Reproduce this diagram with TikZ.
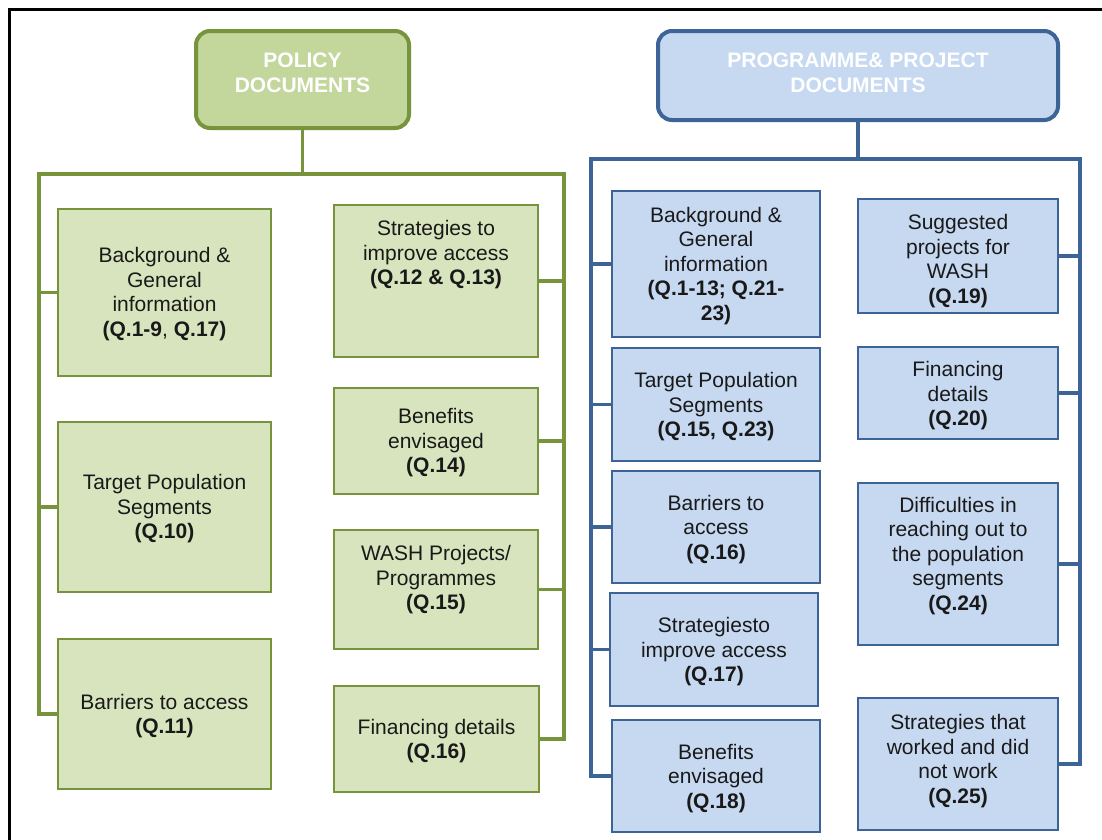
\documentclass[tikz,border=0pt]{standalone}
\usepackage{fontspec}
\setmainfont{Liberation Sans}
\definecolor{gfill}{HTML}{D7E4BD}
\definecolor{ghead}{HTML}{C3D69B}
\definecolor{gline}{HTML}{77933C}
\definecolor{bfill}{HTML}{C6D9F1}
\definecolor{bline}{HTML}{3C6496}
\begin{document}
\begin{tikzpicture}[x=1pt,y=-1pt,
  every node/.style={font=\fontsize{21}{24.5}\selectfont, align=center, text=black!90},
  headtext/.style={font=\fontsize{21}{24.5}\selectfont\bfseries, text=white, inner sep=0pt},
  bodytext/.style={inner sep=0pt},
  ghdr/.style={draw=gline, fill=ghead, line width=4pt, rounded corners=14pt, inner sep=0pt},
  bhdr/.style={draw=bline, fill=bfill, line width=4pt, rounded corners=14pt, inner sep=0pt},
  gbox/.style={draw=gline, fill=gfill, line width=2pt, inner sep=0pt},
  bbox/.style={draw=bline, fill=bfill, line width=2.5pt, inner sep=0pt},
  gwire/.style={draw=gline, line width=3.5pt},
  bwire/.style={draw=bline, line width=3.5pt}
]
\useasboundingbox (0,0) rectangle (1102,839);
\clip (0,0) rectangle (1102,839);
\fill[white] (0,0) rectangle (1102,839);

% outer frame
\draw[line width=3pt] (9.5,860) -- (9.5,9.5) -- (1120,9.5);

% ---------- policy documents ----------
\node[ghdr, minimum width=213pt, minimum height=97pt] (pol) at (302.5,79.5) {};
\node[headtext] (polt) at (302.5,73) {POLICY\\DOCUMENTS};

\node[gbox, minimum width=213pt, minimum height=167pt] (p1) at (164.5,292.5) {};
\node[bodytext] (p1t) at (164.5,294) {Background \&\\General\\information\\\textbf{(Q.1-9}, \textbf{Q.17)}};
\node[gbox, minimum width=213pt, minimum height=170pt] (p2) at (164.5,507) {};
\node[bodytext] (p2t) at (164.5,509) {Target Population\\Segments\\\textbf{(Q.10)}};
\node[gbox, minimum width=213pt, minimum height=150pt] (p3) at (164.5,714) {};
\node[bodytext] (p3t) at (164.5,716) {Barriers to access\\\textbf{(Q.11)}};

\node[gbox, minimum width=204pt, minimum height=152pt] (r1) at (436,281) {};
\node[bodytext] (r1t) at (436,255) {Strategies to\\improve access\\\textbf{(Q.12 \& Q.13)}};
\node[gbox, minimum width=204pt, minimum height=106pt] (r2) at (436,441) {};
\node[bodytext] (r2t) at (436,443) {Benefits\\envisaged\\\textbf{(Q.14)}};
\node[gbox, minimum width=204pt, minimum height=119pt] (r3) at (436,589.5) {};
\node[bodytext] (r3t) at (436,580) {WASH Projects/\\Programmes\\\textbf{(Q.15)}};
\node[gbox, minimum width=205pt, minimum height=106pt] (r4) at (436.5,739) {};
\node[bodytext] (r4t) at (436.5,741) {Financing details\\\textbf{(Q.16)}};

\coordinate (gTL) at (39,174);
\coordinate (gTR) at (564,174);
\draw[gwire] (pol.south) -- (pol.south |- gTL);
\draw[gwire] (p3.west) -| (gTL) -- (gTR) |- (r4.east);
\draw[gwire] (p1.west) -- (p1.west -| gTL);
\draw[gwire] (p2.west) -- (p2.west -| gTL);
\draw[gwire] (r1.east) -- (r1.east -| gTR);
\draw[gwire] (r2.east) -- (r2.east -| gTR);
\draw[gwire] (r3.east) -- (r3.east -| gTR);

% ---------- programme & project documents ----------
\node[bhdr, minimum width=400pt, minimum height=89pt] (prog) at (858,75.5) {};
\node[headtext] (progt) at (858,73) {PROGRAMME\& PROJECT\\DOCUMENTS};

\node[bbox, minimum width=208pt, minimum height=146pt] (b1) at (716,264) {};
\node[bodytext] (b1t) at (716,266) {Background \&\\General\\information\\\textbf{(Q.1-13; Q.21-}\\\textbf{23)}};
\node[bbox, minimum width=208pt, minimum height=113pt] (b2) at (716,404.5) {};
\node[bodytext] (b2t) at (716,407) {Target Population\\Segments\\\textbf{(Q.15, Q.23)}};
\node[bbox, minimum width=208pt, minimum height=112pt] (b3) at (716,527) {};
\node[bodytext] (b3t) at (716,529.5) {Barriers to\\access\\\textbf{(Q.16)}};
\node[bbox, minimum width=208pt, minimum height=113pt] (b4) at (714,649.5) {};
\node[bodytext] (b4t) at (714,652) {Strategiesto\\improve access\\\textbf{(Q.17)}};
\node[bbox, minimum width=208pt, minimum height=112pt] (b5) at (716,776) {};
\node[bodytext] (b5t) at (716,778.5) {Benefits\\envisaged\\\textbf{(Q.18)}};

\node[bbox, minimum width=200pt, minimum height=114pt] (c1) at (958,256) {};
\node[bodytext] (c1t) at (958,261) {Suggested\\projects for\\WASH\\\textbf{(Q.19)}};
\node[bbox, minimum width=200pt, minimum height=92pt] (c2) at (958,393) {};
\node[bodytext] (c2t) at (958,396) {Financing\\details\\\textbf{(Q.20)}};
\node[bbox, minimum width=200pt, minimum height=162pt] (c3) at (958,564) {};
\node[bodytext] (c3t) at (958,556) {Difficulties in\\reaching out to\\the population\\segments\\\textbf{(Q.24)}};
\node[bbox, minimum width=200pt, minimum height=132pt] (c4) at (958,764) {};
\node[bodytext] (c4t) at (958,761) {Strategies that\\worked and did\\not work\\\textbf{(Q.25)}};

\coordinate (bTL) at (591,159);
\coordinate (bTR) at (1080,159);
\draw[bwire] (prog.south) -- (prog.south |- bTL);
\draw[bwire] (b5.west) -| (bTL) -- (bTR) |- (c4.east);
\draw[bwire] (b1.west) -- (b1.west -| bTL);
\draw[bwire] (b2.west) -- (b2.west -| bTL);
\draw[bwire] (b3.west) -- (b3.west -| bTL);
\draw[bwire] (b4.west) -- (b4.west -| bTL);
\draw[bwire] (c1.east) -- (c1.east -| bTR);
\draw[bwire] (c2.east) -- (c2.east -| bTR);
\draw[bwire] (c3.east) -- (c3.east -| bTR);
\end{tikzpicture}
\end{document}
